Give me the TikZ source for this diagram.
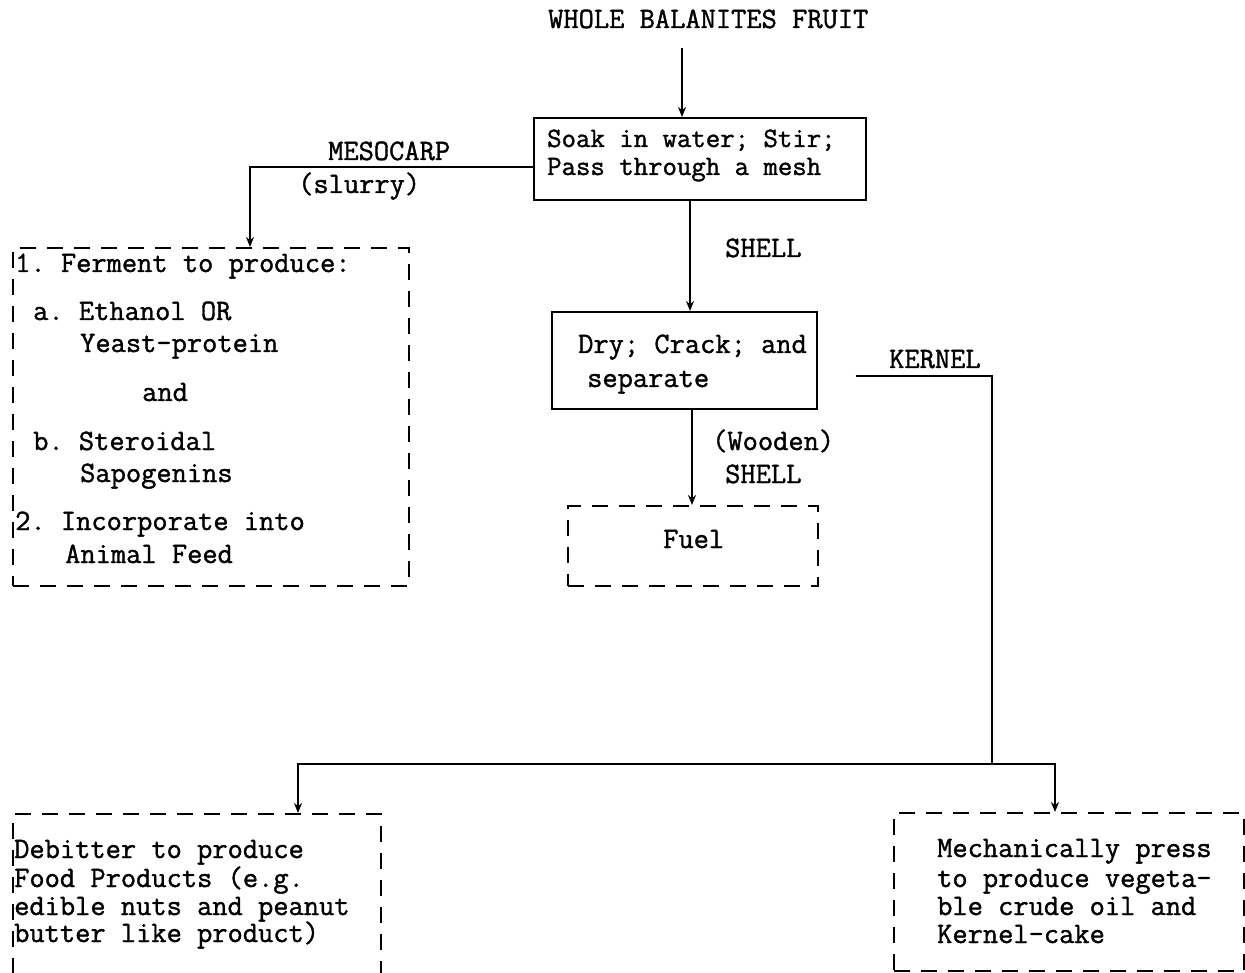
\documentclass[tikz,border=0pt]{standalone}
\usepackage{fontspec}
\setmonofont[RawFeature={embolden=1.3}]{Latin Modern Mono}
\usetikzlibrary{arrows.meta}
\newcommand\twfont{\ttfamily\fontsize{29.6}{32}\selectfont}
\newcommand\twsmall{\ttfamily\fontsize{28}{32}\selectfont}

\begin{document}
\begin{tikzpicture}[x=1pt,y=-1pt,
  txt/.style={font=\twfont, inner sep=0pt, anchor=base west},
  solidbox/.style={draw, line width=1.7pt, inner sep=0pt, anchor=north west},
  dashbox/.style={draw, line width=1.7pt, dash pattern=on 16pt off 11pt, inner sep=0pt, anchor=north west},
  flow/.style={line width=1.7pt},
  tip/.style={-{Stealth[length=10pt,width=8pt]}}
]
\useasboundingbox (0,0) rectangle (1245,973);

% process and product boxes
\node[solidbox, minimum width=332pt, minimum height=82pt] (soak) at (533,117) {};
\node[dashbox, minimum width=396pt, minimum height=338pt] (ferment) at (12,247) {};
\node[solidbox, minimum width=265pt, minimum height=97pt] (sep) at (551,311) {};
\node[dashbox, minimum width=250pt, minimum height=80pt] (fuel) at (567,505) {};
\node[dashbox, minimum width=368pt, minimum height=200pt] (debitter) at (12,813) {};
\node[dashbox, minimum width=350pt, minimum height=158pt] (press) at (893,812) {};

% texts
\node[txt] (title) at (548,28) {WHOLE BALANITES FRUIT};
\node[txt, font=\twsmall] (soak1) at (547,147) {Soak in water; Stir;};
\node[txt, font=\twsmall] (soak2) at (547,175) {Pass through a mesh};

\node[txt] (meso) at (328,160) {MESOCARP};
\node[txt] (slurry) at (298,193) {(slurry)};

\node[txt] (f1) at (15,272) {1. Ferment to produce:};
\node[txt] (f2) at (33,320) {a. Ethanol OR};
\node[txt] (f3) at (80,352) {Yeast-protein};
\node[txt] (f4) at (142,401) {and};
\node[txt] (f5) at (33,450) {b. Steroidal};
\node[txt] (f6) at (80,482) {Sapogenins};
\node[txt] (f7) at (15,530) {2. Incorporate into};
\node[txt] (f8) at (65,563) {Animal Feed};

\node[txt] (shell) at (725,257) {SHELL};
\node[txt] (sep1) at (578,353) {Dry; Crack; and};
\node[txt] (sep2) at (587,387) {separate};
\node[txt] (kernel) at (889,368) {KERNEL};
\node[txt] (wood1) at (712,450) {(Wooden)};
\node[txt] (wood2) at (725,483) {SHELL};
\node[txt] (fueltxt) at (663,548) {Fuel};

\node[txt] (d1) at (14,858) {Debitter to produce};
\node[txt] (d2) at (14,887) {Food Products (e.g.};
\node[txt] (d3) at (14,915) {edible nuts and peanut};
\node[txt] (d4) at (14,942) {butter like product)};

\node[txt] (p1) at (937,857) {Mechanically press};
\node[txt] (p2) at (937,887) {to produce vegeta-};
\node[txt] (p3) at (937,915) {ble crude oil and};
\node[txt] (p4) at (937,943) {Kernel-cake};

% connectors
\coordinate (fruitdrop) at (682,48);
\draw[flow,tip] (fruitdrop) -- (fruitdrop |- soak.north);

\coordinate (mesoturn) at (250,167);
\draw[flow,tip] (mesoturn -| soak.west) -- (mesoturn) -- (mesoturn |- ferment.north);

\coordinate (shellx) at (690,0);
\draw[flow,tip] (shellx |- soak.south) -- (shellx |- sep.north);

\coordinate (woodx) at (692,0);
\draw[flow,tip] (woodx |- sep.south) -- (woodx |- fuel.north);

\coordinate (kturn) at (992,376);
\coordinate (split) at (992,764);
\draw[flow, shorten <=38pt] (kturn -| sep.east) -- (kturn) -- (split);

\coordinate (leftdrop) at (298,764);
\coordinate (rightdrop) at (1055,764);
\draw[flow,tip] (split) -- (leftdrop) -- (leftdrop |- debitter.north);
\draw[flow,tip] (split) -- (rightdrop) -- (rightdrop |- press.north);
\end{tikzpicture}
\end{document}
